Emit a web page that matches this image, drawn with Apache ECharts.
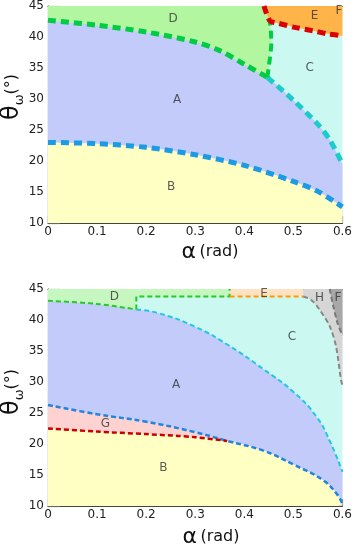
<!DOCTYPE html>
<html>
<head>
<meta charset="utf-8">
<script src="https://cdn.jsdelivr.net/npm/echarts@6/dist/echarts.min.js"></script>
<style>
  html, body { margin: 0; padding: 0; background: #fff; }
  #chart { width: 355px; height: 546px; }
</style>
</head>
<body>
<div id="chart"></div>
<script>
// axis ticks
var alphaTicks = [0, 0.1, 0.2, 0.3, 0.4, 0.5, 0.6];
var thetaTicks = [10, 15, 20, 25, 30, 35, 40, 45];

// ---- top panel boundaries [alpha, theta] ----
var topAB = [[0, 23], [0.1, 22.8], [0.2, 22.2], [0.3, 21], [0.4, 19.3], [0.5, 16.7], [0.55, 15.1], [0.6, 12.6]];
var topAD = [[0, 42.7], [0.1, 41.9], [0.2, 40.8], [0.3, 39.2], [0.35, 37.8], [0.4, 35.6], [0.447, 33.5]];
var topAC = [[0.447, 33.5], [0.5, 29.8], [0.55, 25.9], [0.575, 23.3], [0.6, 19.5]];
var topDC = [[0.447, 33.5], [0.452, 36.5], [0.455, 39], [0.454, 41], [0.452, 42.6]];
var topE = [[0.44, 45], [0.452, 42.6], [0.47, 42.2], [0.5, 41.6], [0.54, 41], [0.57, 40.5], [0.6, 40.2]];
var topLabels = [
  ["A", 0.263, 29.8], ["B", 0.251, 15.8], ["C", 0.533, 35.1],
  ["D", 0.255, 42.9], ["E", 0.543, 43.4], ["F", 0.593, 44.2]
];

// ---- bottom panel boundaries ----
var botAG = [[0, 26.3], [0.1, 24.8], [0.2, 23.6], [0.3, 21.9], [0.365, 20.5], [0.44, 18.9], [0.5, 16.7], [0.56, 14.2], [0.59, 11.8], [0.6, 10.3]];
var botGB = [[0, 22.5], [0.1, 22], [0.2, 21.6], [0.265, 21.3], [0.3, 21.1], [0.365, 20.5]];
var botAD = [[0, 43.1], [0.1, 42.6], [0.18, 41.7]];
var botAC = [[0.18, 41.7], [0.225, 41.1], [0.3, 38.9], [0.37, 35.8], [0.44, 32], [0.5, 28.4], [0.547, 24.4], [0.574, 20.5], [0.6, 15.5]];
var botDstep = [[0.18, 41.7], [0.18, 43.8], [0.37, 43.8], [0.37, 45]];
var botE = [[0.37, 43.8], [0.52, 43.8]];
var botH = [[0.52, 43.8], [0.537, 43.2], [0.553, 41.7], [0.574, 39], [0.587, 35.7], [0.597, 30.3], [0.6, 29.5]];
var botF = [[0.574, 45], [0.582, 42], [0.59, 39.5], [0.6, 37.5]];
var botLabels = [
  ["A", 0.261, 29.5], ["B", 0.235, 16.2], ["C", 0.497, 37.2], ["D", 0.135, 43.8],
  ["E", 0.44, 44.2], ["F", 0.591, 43.5], ["G", 0.117, 23.2], ["H", 0.553, 43.6]
];

var FONT = "DejaVu Sans";

function fill(g, data, color, origin, smooth) {
  return {
    type: "line", xAxisIndex: g * 2, yAxisIndex: g, data: data,
    symbol: "none", smooth: smooth, silent: true,
    lineStyle: { width: 0 },
    areaStyle: { color: color, opacity: 1, origin: origin }
  };
}
function dash(g, data, color, width, pattern, smooth) {
  return {
    type: "line", xAxisIndex: g * 2, yAxisIndex: g, data: data,
    symbol: "none", smooth: smooth, silent: true,
    lineStyle: { color: color, width: width, type: pattern, cap: "butt" }
  };
}
function labels(g, list) {
  return {
    type: "scatter", xAxisIndex: g * 2, yAxisIndex: g, silent: true, z: 5,
    symbolSize: 1, itemStyle: { color: "rgba(0,0,0,0)" },
    data: list.map(function (d) { return { name: d[0], value: [d[1], d[2]] }; }),
    label: { show: true, position: "inside", formatter: "{b}", color: "#333", fontSize: 12, fontFamily: FONT }
  };
}
function xAx(g, top) {
  return {
    type: "value", gridIndex: g, min: 0, max: 0.6, interval: 0.1,
    position: top ? "top" : "bottom",
    axisLine: { show: true, lineStyle: { color: "#444", width: 1.2 } },
    axisTick: { show: !top, inside: true, length: 7, lineStyle: { color: "#666", width: 1.2 } },
    axisLabel: {
      show: !top, color: "#222", fontSize: 12, fontFamily: FONT, margin: 3,
      formatter: function (v) { return String(+v.toFixed(1)); }
    },
    splitLine: { show: false }
  };
}
function yAx(g) {
  return {
    type: "value", gridIndex: g, min: 10, max: 45, interval: 5,
    axisLine: { show: true, lineStyle: { color: "#444", width: 1.2 } },
    axisTick: { inside: true, length: 12, lineStyle: { color: "#666", width: 1.2 } },
    axisLabel: { color: "#222", fontSize: 12, fontFamily: FONT, margin: 4 },
    splitLine: { show: false }
  };
}

var topD = topAD.concat(topDC.slice(1), [[0.44, 45]]);
var botB = botGB.concat(botAG.filter(function (p) { return p[0] > 0.365; }));

var series = [
  // top panel
  fill(0, topAD.concat(topAC.slice(1)), "#c3cbfa", "start", 0.3),
  fill(0, topAB, "#ffffc4", "start", 0.3),
  fill(0, topD, "#b3f6a0", "end", 0.2),
  fill(0, topE, "#ffb44a", "end", 0.2),
  dash(0, topAB, "#1a9be3", 5, [8, 5], 0.3),
  dash(0, topAD, "#00cc44", 5, [8, 5], 0.3),
  dash(0, topAC, "#1ccccc", 5, [8, 5], 0.3),
  dash(0, topDC, "#00cc44", 4, [8, 5], 0.3),
  dash(0, topE, "#dd0000", 5, [8, 5], 0.2),
  labels(0, topLabels),
  // bottom panel
  fill(1, botAD.concat(botAC.slice(1)), "#c3cbfa", "start", 0.5),
  fill(1, botAG, "#ffd2d2", "start", 0.4),
  fill(1, botB, "#ffffc4", "start", 0.4),
  fill(1, botAD.concat(botDstep.slice(1)), "#c6f7c0", "end", false),
  fill(1, botE, "#ffe2c2", "end", false),
  fill(1, botH, "#d6d6d6", "end", 0.3),
  fill(1, botF, "#a8a8a8", "end", 0.2),
  dash(1, botAG, "#1f86e0", 2.5, [5, 3], 0.4),
  dash(1, botGB, "#c80000", 2.5, [5, 3], 0.3),
  dash(1, botAD, "#22cc22", 2, [5, 3], 0.3),
  dash(1, botDstep, "#22cc22", 2, [5, 3], false),
  dash(1, botAC, "#22c8dd", 2, [5, 3], 0.5),
  dash(1, botE, "#ff9900", 2, [5, 3], false),
  dash(1, botH, "#888888", 2, [5, 3], 0.3),
  dash(1, botF, "#777777", 2, [5, 3], 0.2),
  labels(1, botLabels)
];

var chart = echarts.init(document.getElementById("chart"), null, { renderer: "canvas" });
chart.setOption({
  animation: false,
  backgroundColor: "#fff",
  grid: [
    { left: 48, top: 5, width: 299, height: 218, show: true, backgroundColor: "#ccf8f2", borderWidth: 0 },
    { left: 48, top: 289, width: 299, height: 217, show: true, backgroundColor: "#ccf8f2", borderWidth: 0 }
  ],
  xAxis: [xAx(0, false), xAx(0, true), xAx(1, false), xAx(1, true)],
  yAxis: [yAx(0), yAx(1)],
  graphic: [
    { type: "text", x: 210, y: 252, style: { text: "{a|α} {r|(rad)}", align: "center", verticalAlign: "middle",
        rich: { a: { fontSize: 22, fontFamily: FONT, fill: "#111" }, r: { fontSize: 16, fontFamily: FONT, fill: "#111" } } } },
    { type: "text", x: 211, y: 537, style: { text: "{a|α} {r|(rad)}", align: "center", verticalAlign: "middle",
        rich: { a: { fontSize: 22, fontFamily: FONT, fill: "#111" }, r: { fontSize: 16, fontFamily: FONT, fill: "#111" } } } },
    { type: "text", x: 12, y: 97, rotation: Math.PI / 2, style: { text: "{t|θ}{s|ω}{p|(°)}", align: "center", verticalAlign: "middle",
        rich: { t: { fontSize: 24, fontFamily: FONT, fill: "#111", lineHeight: 28 },
                s: { fontSize: 13, fontFamily: FONT, fill: "#111", verticalAlign: "bottom", lineHeight: 28 },
                p: { fontSize: 16, fontFamily: FONT, fill: "#111", lineHeight: 28 } } } },
    { type: "text", x: 12, y: 392, rotation: Math.PI / 2, style: { text: "{t|θ}{s|ω}{p|(°)}", align: "center", verticalAlign: "middle",
        rich: { t: { fontSize: 24, fontFamily: FONT, fill: "#111", lineHeight: 28 },
                s: { fontSize: 13, fontFamily: FONT, fill: "#111", verticalAlign: "bottom", lineHeight: 28 },
                p: { fontSize: 16, fontFamily: FONT, fill: "#111", lineHeight: 28 } } } }
  ],
  series: series
});
</script>
</body>
</html>
